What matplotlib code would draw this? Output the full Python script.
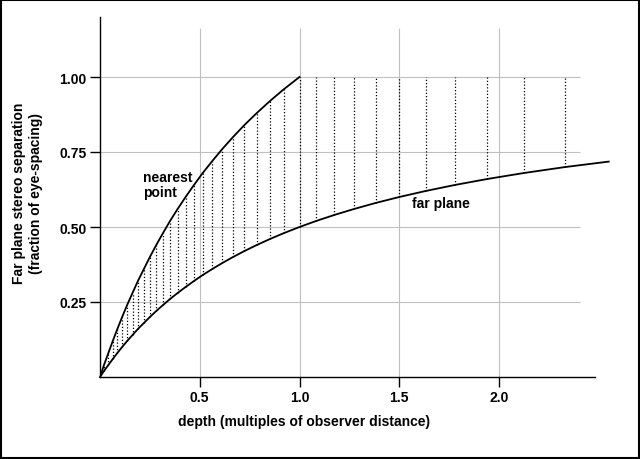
import matplotlib
matplotlib.use("Agg")
import matplotlib.pyplot as plt
from matplotlib.patches import Rectangle

# depths (multiples of observer distance) at the dotted hatch lines
depth = [0.020, 0.042, 0.064, 0.087, 0.111, 0.136, 0.163, 0.190, 0.220, 0.250,
         0.282, 0.316, 0.351, 0.389, 0.429, 0.471, 0.515, 0.563, 0.613, 0.667,
         0.724, 0.786, 0.852, 0.923, 1.000, 1.083, 1.174, 1.273, 1.381, 1.500,
         1.632, 1.778, 1.941, 2.125, 2.333]
# far plane separation at those depths
far_sep = [0.02, 0.04, 0.06, 0.08, 0.10, 0.12, 0.14, 0.16, 0.18, 0.20,
           0.22, 0.24, 0.26, 0.28, 0.30, 0.32, 0.34, 0.36, 0.38, 0.40,
           0.42, 0.44, 0.46, 0.48, 0.50, 0.52, 0.54, 0.56, 0.58, 0.60,
           0.62, 0.64, 0.66, 0.68, 0.70]
# top of each hatch line (nearest point curve, then capped at 1.0)
top_sep = [0.04, 0.08, 0.12, 0.16, 0.20, 0.24, 0.28, 0.32, 0.36, 0.40,
           0.44, 0.48, 0.52, 0.56, 0.60, 0.64, 0.68, 0.72, 0.76, 0.80,
           0.84, 0.88, 0.92, 0.96, 1.00, 1.00, 1.00, 1.00, 1.00, 1.00,
           1.00, 1.00, 1.00, 1.00, 1.00]

# curve end points outside the hatch lines
far_depth = [0.0] + depth + [2.55]
far_curve = [0.0] + far_sep + [0.718]
near_depth = [0.0] + depth[:25]
near_curve = [0.0] + top_sep[:25]

xticks = [0.5, 1.0, 1.5, 2.0]
xtick_labels = ["0.5", "1.0", "1.5", "2.0"]
yticks = [0.25, 0.50, 0.75, 1.00]
ytick_labels = ["0.25", "0.50", "0.75", "1.00"]

plt.rcParams['font.family'] = ['Liberation Sans', 'DejaVu Sans']
plt.rcParams['font.weight'] = 'bold'
plt.rcParams['font.size'] = 10

W, H = 640, 460
fig = plt.figure(figsize=(6.4, 4.6), dpi=100)
# thin black frame round the whole picture
fig.patches.append(Rectangle((1.0 / W, 1.0 / H), (W - 2.0) / W, (H - 2.0) / H,
                             fill=False, edgecolor='black', linewidth=1.5,
                             transform=fig.transFigure, figure=fig))

# axes placed in pixel terms: x=0 at px 100, 199.5 px per unit; y=0 at px 378, 300 px per unit
x_max = 2.7
ax = fig.add_axes([100 / W, (H - 378) / H, x_max * 199.5 / W, 1.2 * 300 / H])
ax.set_xlim(0, x_max)
ax.set_ylim(0, 1.2)

# grid
grid_col = '#c0c0c0'
ax.vlines(xticks, 0, 1.163, colors=grid_col, linewidth=0.8, zorder=1)
ax.hlines(yticks, 0, 2.406, colors=grid_col, linewidth=0.8, zorder=1)

# hatch lines between far plane and nearest point / 1.0
ax.vlines(depth, far_sep, top_sep, colors='black', linewidth=0.9,
          linestyles=(0, (1, 1.6)), zorder=2)

ax.plot(far_depth, far_curve, color='black', linewidth=1.3, zorder=3, clip_on=False)
ax.plot(near_depth, near_curve, color='black', linewidth=1.3, zorder=3)

for s in ['top', 'right']:
    ax.spines[s].set_visible(False)
ax.spines['left'].set_bounds(0, 1.2)
ax.spines['bottom'].set_bounds(0, 2.48)
ax.spines['left'].set_linewidth(1.0)
ax.spines['bottom'].set_linewidth(1.0)

ax.set_xticks(xticks)
ax.set_xticklabels(xtick_labels)
ax.set_yticks(yticks)
ax.set_yticklabels(ytick_labels)
ax.tick_params(direction='out', length=7.2, width=1.0, pad=2.5, labelsize=10)

ax.text(0.2155, 0.653, "nearest", ha='left', va='baseline', fontsize=10, fontweight='bold')
ax.text(0.2155, 0.605, "point", ha='left', va='baseline', fontsize=10, fontweight='bold')
ax.text(1.565, 0.566, "far plane", ha='left', va='baseline', fontsize=10, fontweight='bold')

fig.text(304 / W, 1 - 422 / H, "depth (multiples of observer distance)",
         ha='center', va='center', fontsize=10, fontweight='bold')
fig.text(19 / W, 1 - 193 / H, "Far plane stereo separation",
         ha='center', va='center', rotation=90, fontsize=10, fontweight='bold')
fig.text(36 / W, 1 - 193 / H, "(fraction of eye-spacing)",
         ha='center', va='center', rotation=90, fontsize=10, fontweight='bold')

fig.savefig("out.png", dpi=100)
